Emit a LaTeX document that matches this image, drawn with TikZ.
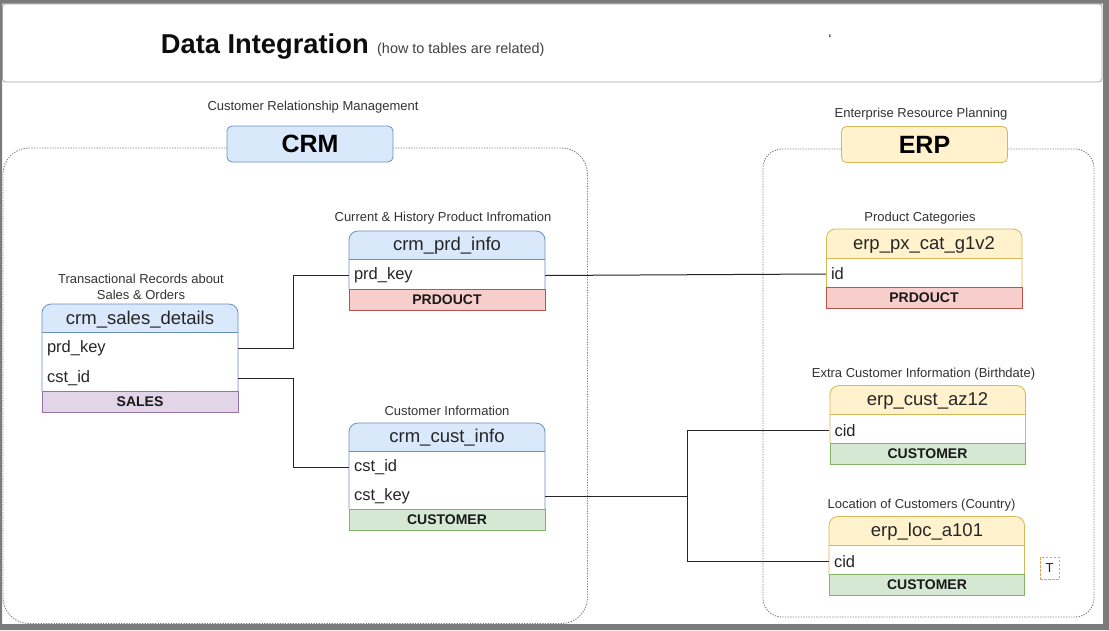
\documentclass[tikz,border=0pt]{standalone}
\usepackage{fontspec}
\setmainfont{Liberation Sans}
\definecolor{blueF}{HTML}{DAE8FC}\definecolor{blueD}{HTML}{6C8EBF}
\definecolor{yelF}{HTML}{FFF2CC}\definecolor{yelD}{HTML}{D6B656}
\definecolor{redF}{HTML}{F8CECC}\definecolor{redD}{HTML}{B85450}
\definecolor{grnF}{HTML}{D5E8D4}\definecolor{grnD}{HTML}{82B366}
\definecolor{purF}{HTML}{E1D5E7}\definecolor{purD}{HTML}{9673A6}
\definecolor{frameG}{HTML}{7B7B7B}
\definecolor{tOrange}{HTML}{F0A030}
\newcommand{\tableframe}[8]{%
  \fill[#7F, rounded corners=9pt] (#1,#5) -- (#1,#3) -- (#2,#3) -- (#2,#5);
  \fill[white] (#1,#4) rectangle (#2,#5);
  \draw[#7D, line width=0.8pt, rounded corners=9pt] (#1,#5) -- (#1,#3) -- (#2,#3) -- (#2,#5);
  \draw[#7D, line width=0.8pt] (#1,#4) -- (#2,#4);
  \filldraw[fill=#8F, draw=#8D, line width=0.8pt] (#1,#5) rectangle (#2,#6);
}
\begin{document}
\begin{tikzpicture}[x=1pt,y=-1pt,
  lbl/.style={font=\fontsize{13}{15}\selectfont, text=black!80, inner sep=0pt, align=center},
  htxt/.style={font=\fontsize{18.5}{20}\selectfont, text=black!85, inner sep=0pt, yshift=-1pt},
  rowcell/.style={rectangle, inner xsep=5pt, inner ysep=0pt, text width=186pt, minimum height=29pt, align=left, font=\fontsize{16.5}{18}\selectfont, text=black!85, yshift=-1.5pt},
  ftxt/.style={font=\bfseries\fontsize{14}{16}\selectfont, text=black!90, inner sep=0pt},
  conn/.style={draw=black!85, line width=1pt},
  grp/.style={draw=black!50, dash pattern=on 1.3pt off 1.3pt, line width=0.9pt},
  sysbox/.style={rectangle, rounded corners=5pt, minimum width=166pt, minimum height=36pt, inner sep=0pt, font=\bfseries\fontsize{25}{28}\selectfont, line width=0.8pt},
]
\useasboundingbox (0,0) rectangle (1109,630);
\fill[white] (0,0) rectangle (1109,630);

% title box
\node[draw=black!35, line width=0.8pt, rounded corners=3pt, fill=white, minimum width=1099.5pt, minimum height=78pt, inner sep=0pt, anchor=north west] (titlebox) at (2,3.5) {};
\node[anchor=base west, inner sep=0pt, font=\bfseries\fontsize{27.3}{30}\selectfont, text=black!95] (title) at (160.7,53.5) {Data Integration};
\node[anchor=base west, inner sep=0pt, font=\fontsize{14.4}{16}\selectfont, text=black!75] (subtitle) at (377,53.5) {(how to tables are related)};
\node[inner sep=0pt, font=\bfseries\fontsize{10}{11}\selectfont, text=black!85] (tick) at (830,38) {`};

% groups
\draw[grp, rounded corners=26pt] (3,148) rectangle (587.5,623.5);
\draw[grp, rounded corners=19pt] (763,149) rectangle (1094,617);

\node[lbl] (crmlbl) at (313,107.5) {Customer Relationship Management};
\node[sysbox, fill=blueF, draw=blueD] (crm) at (310,144) {CRM};
\node[lbl] (erplbl) at (921,114) {Enterprise Resource Planning};
\node[sysbox, fill=yelF, draw=yelD] (erp) at (924.5,144.5) {ERP};

% crm_sales_details
\node[lbl] (salesl1) at (141,278.5) {Transactional Records about};
\node[lbl] (salesl2) at (141,294.5) {Sales \& Orders};
\tableframe{42}{238}{304}{332}{391}{412}{blue}{pur}
\node[htxt] (salesh) at (140,318.5) {crm\_sales\_details};
\node[rowcell] (sprd) at (140,347) {prd\_key};
\node[rowcell] (scst) at (140,376.5) {cst\_id};
\node[ftxt] (salesf) at (140,402) {SALES};

% crm_prd_info
\node[lbl] (prdl) at (443,218.5) {Current \& History Product Infromation};
\tableframe{349}{545}{231}{259.5}{289}{310}{blue}{red}
\node[htxt] (prdh) at (447,245) {crm\_prd\_info};
\node[rowcell] (pprd) at (447,274) {prd\_key};
\node[ftxt] (prdf) at (447,299.5) {PRDOUCT};

% crm_cust_info
\node[lbl] (custl) at (447,411) {Customer Information};
\tableframe{349}{545}{423}{451.5}{509}{530.5}{blue}{grn}
\node[htxt] (custh) at (447,437) {crm\_cust\_info};
\node[rowcell] (ccid) at (447,466) {cst\_id};
\node[rowcell] (ckey) at (447,495) {cst\_key};
\node[ftxt] (custf) at (447,520) {CUSTOMER};

% erp_px_cat_g1v2
\node[lbl] (pxl) at (920,218.5) {Product Categories};
\tableframe{826.5}{1022}{229}{258}{287}{308.5}{yel}{red}
\node[htxt] (pxh) at (924,243.5) {erp\_px\_cat\_g1v2};
\node[rowcell] (pxid) at (924,272.5) {id};
\node[ftxt] (pxf) at (924,298) {PRDOUCT};

% erp_cust_az12
\node[lbl] (azl) at (923.5,374.5) {Extra Customer Information (Birthdate)};
\tableframe{830}{1025.5}{385.5}{414.5}{443}{464.5}{yel}{grn}
\node[htxt] (azh) at (927.5,400) {erp\_cust\_az12};
\node[rowcell] (azcid) at (927.5,429) {cid};
\node[ftxt] (azf) at (927.5,454) {CUSTOMER};

% erp_loc_a101
\node[lbl] (locl) at (921.5,505.5) {Location of Customers (Country)};
\tableframe{829}{1024.5}{516.5}{545.5}{574}{595}{yel}{grn}
\node[htxt] (loch) at (927,531) {erp\_loc\_a101};
\node[rowcell] (loccid) at (927,560) {cid};
\node[ftxt] (locf) at (927,585) {CUSTOMER};

% T box
\node[draw=tOrange, dash pattern=on 2.5pt off 1.5pt, line width=0.8pt, minimum width=19pt, minimum height=22pt, inner sep=0pt, font=\fontsize{13}{15}\selectfont, text=black!85] (tbox) at (1049.5,568) {T};

% connectors
\draw[conn] (sprd.east) -- ++(54.8,0) |- (pprd.west);
\draw[conn] (scst.east) -- ++(54.8,0) |- (ccid.west);
\draw[conn] (pprd.east) -- (pxid.west);
\draw[conn] (ckey.east) -- ++(142,0) coordinate (br) |- (azcid.west);
\draw[conn] (br) |- (loccid.west);

% outer frame
\fill[frameG, even odd rule] (0,0) rectangle (1109,630) (2,3.5) rectangle (1103,624);
\end{tikzpicture}
\end{document}
